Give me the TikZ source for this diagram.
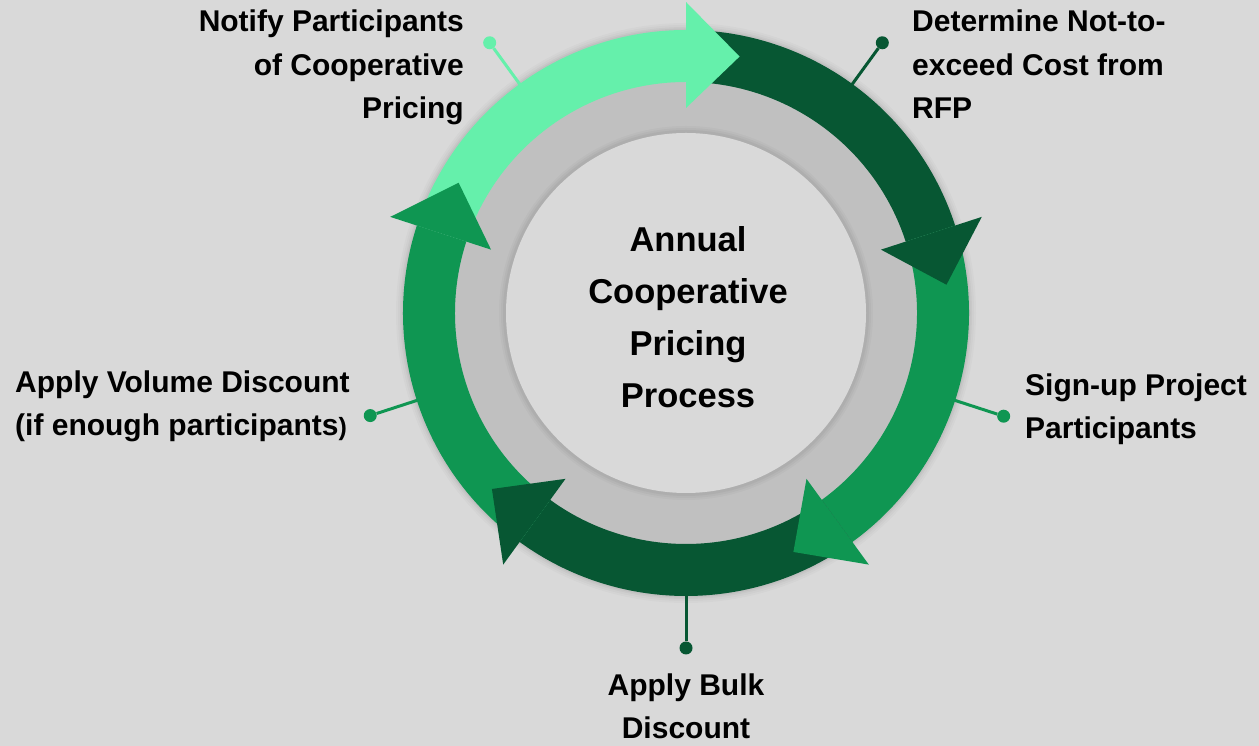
\documentclass[tikz,border=0pt]{standalone}
\usepackage{fontspec}
\setmainfont{Liberation Sans}
\usetikzlibrary{calc}
\definecolor{bg}{HTML}{D9D9D9}
\definecolor{ringgray}{HTML}{C0C0C0}
\definecolor{discgray}{HTML}{D9D9D9}
\definecolor{lightg}{HTML}{65F0AB}
\definecolor{darkg}{HTML}{075733}
\definecolor{midg}{HTML}{0F9652}
\newcommand{\ringband}[3]{%
  \fill[#1] ($(C)+(#2:283)$) arc[start angle=#2, end angle=#3, radius=283]
    -- ($(C)+(#3:231)$) arc[start angle=#3, end angle=#2, radius=231] -- cycle;}
\newcommand{\ringhead}[2]{%
  \fill[#1] ($(C)+(#2:311)$) -- ($(C)+(#2-11.8:262)$) -- ($(C)+(#2:205)$) -- cycle;}
\tikzset{
  dot/.style={circle, fill=#1, inner sep=0pt, minimum size=13pt},
  leader/.style={draw=#1, line width=3pt},
  lbl/.style={inner sep=0pt, font=\bfseries\fontsize{30}{43.5}\selectfont},
  ctr/.style={inner sep=0pt, align=center, font=\bfseries\fontsize{34.5}{52}\selectfont}
}
\begin{document}
\begin{tikzpicture}[x=1pt,y=1pt]
\useasboundingbox[fill=bg] (0,0) rectangle (1259,746);
\coordinate (C) at (686,433);
% soft shadow around ring
\foreach \w/\o in {14/0.02,10/0.025,6/0.03,3/0.035}{
  \draw[black, opacity=\o, line width=\w pt] (C) circle (283);
}
\fill[ringgray] (C) circle (283);
% shadow of inner disc on gray ring
\foreach \w/\o in {12/0.025,8/0.03,4/0.035}{
  \draw[black, opacity=\o, line width=\w pt] (C) circle (181);
}
\fill[discgray] (C) circle (180);
% leaders (drawn first so the ring covers their start)
\coordinate (e1) at ($(C)+(126:270)$);
\coordinate (e2) at ($(C)+(54:270)$);
\coordinate (e3) at ($(C)+(-18:270)$);
\coordinate (e4) at ($(C)+(-90:270)$);
\coordinate (e5) at ($(C)+(198:270)$);
\node[dot=lightg] (d1) at ($(C)+(126:334)$) {};
\node[dot=darkg] (d2) at ($(C)+(54:334)$) {};
\node[dot=midg] (d3) at ($(C)+(-18:334)$) {};
\node[dot=darkg] (d4) at ($(C)+(-90:335)$) {};
\node[dot=midg] (d5) at ($(C)+(198:332)$) {};
\draw[leader=lightg] (e1) -- (d1);
\draw[leader=darkg] (e2) -- (d2);
\draw[leader=midg] (e3) -- (d3);
\draw[leader=darkg] (e4) -- (d4);
\draw[leader=midg] (e5) -- (d5);
% bands
\ringband{lightg}{162}{90}
\ringband{darkg}{90}{18}
\ringband{midg}{18}{-54}
\ringband{darkg}{-54}{-126}
\ringband{midg}{-126}{-198}
% heads
\ringhead{lightg}{90}
\ringhead{darkg}{18}
\ringhead{midg}{-54}
\ringhead{darkg}{-126}
\ringhead{midg}{-198}
% labels (base = baseline of last line)
\node[lbl, align=right, anchor=base east] (t1) at (464,627) {Notify Participants\\of Cooperative\\Pricing};
\node[lbl, align=left, anchor=base west] (t2) at (912,627) {Determine Not-to-\\exceed Cost from\\RFP};
\node[lbl, align=left, anchor=base west] (t3) at (1025,307) {Sign-up Project\\Participants};
\node[lbl, align=center, anchor=base] (t4) at (686,7) {Apply Bulk\\Discount};
\node[lbl, align=left, anchor=base west] (t5) at (15,310) {Apply Volume Discount\\(if enough participants{\fontsize{25}{25}\selectfont)}};
\node[ctr, anchor=base] (title) at (688,338) {Annual\\Cooperative\\Pricing\\Process};
\end{tikzpicture}
\end{document}
